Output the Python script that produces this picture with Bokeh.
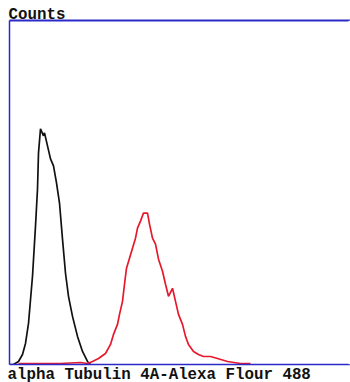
from bokeh.plotting import figure
from bokeh.models import Range1d, LinearAxis, Title, Span
from bokeh.embed import file_html
from bokeh.resources import INLINE

# Fluorescence channel (0-1023) and event counts
control_channel = [0, 12, 27, 39, 48, 57, 69, 78, 84, 87, 93, 102, 105, 114, 123, 132,
                   141, 150, 159, 168, 177, 189, 204, 219, 234, 243]
control_counts = [0, 0, 3, 10, 21, 41, 88, 138, 175, 211, 235, 228, 231, 218, 205, 198,
                  181, 161, 125, 91, 68, 48, 28, 13, 3, 0]

stained_channel = [27, 93, 153, 213, 234, 249, 267, 288, 303, 312, 324, 330, 339, 345, 351,
                   360, 369, 378, 384, 393, 402, 414, 420, 429, 438, 447, 459, 468, 477, 489,
                   498, 507, 519, 528, 537, 552, 567, 582, 603, 624, 654, 693, 723]
stained_counts = [1, 1, 1, 2, 1, 3, 6, 11, 20, 30, 40, 50, 63, 80, 96, 106, 116, 126, 136,
                  143, 151, 151, 140, 126, 120, 105, 93, 80, 68, 76, 63, 50, 40, 28, 20, 13,
                  10, 8, 8, 6, 3, 1, 1]

y_label = "Counts"
x_label = "alpha Tubulin 4A-Alexa Flour 488"

X_MAX = 1023
Y_MAX = 343

FONT = "Liberation Mono"
BLUE = "#2a2ac8"

p = figure(width=350, height=382, output_backend="svg", toolbar_location=None,
           x_range=Range1d(0, X_MAX), y_range=Range1d(0, Y_MAX),
           min_border_left=9, min_border_right=0, min_border_top=20, min_border_bottom=0)
p.background_fill_color = "white"
p.border_fill_color = "white"
p.outline_line_color = None
p.grid.visible = False


def frame_axis(ax, width, color):
    ax.ticker = []
    ax.major_tick_line_color = None
    ax.minor_tick_line_color = None
    ax.major_tick_out = 0
    ax.major_tick_in = 0
    ax.minor_tick_out = 0
    ax.major_label_standoff = 0
    ax.axis_line_color = color
    ax.axis_line_width = width


frame_axis(p.xaxis[0], 1.5, BLUE)
frame_axis(p.yaxis[0], 1.5, BLUE)
top = LinearAxis()
frame_axis(top, 2, BLUE)
p.add_layout(top, "above")

# cover the right edge of the frame so that it stays open, as in the original
p.add_layout(Span(location=X_MAX, dimension="height", line_color="white",
                  line_width=4, level="overlay"))

p.add_layout(Title(text=y_label, align="left", text_font=FONT, text_font_style="bold",
                   text_font_size="15.8px", text_color="#111111", standoff=-6, offset=-1), "above")
p.add_layout(Title(text=x_label, align="left", text_font=FONT, text_font_style="bold",
                   text_font_size="15.8px", text_color="#111111", standoff=-2, offset=-2), "below")

p.line(control_channel, control_counts, line_color="#111111", line_width=1.7)
p.line(stained_channel, stained_counts, line_color="#e8182c", line_width=1.7)

open("out.html", "w").write(file_html(p, INLINE))
